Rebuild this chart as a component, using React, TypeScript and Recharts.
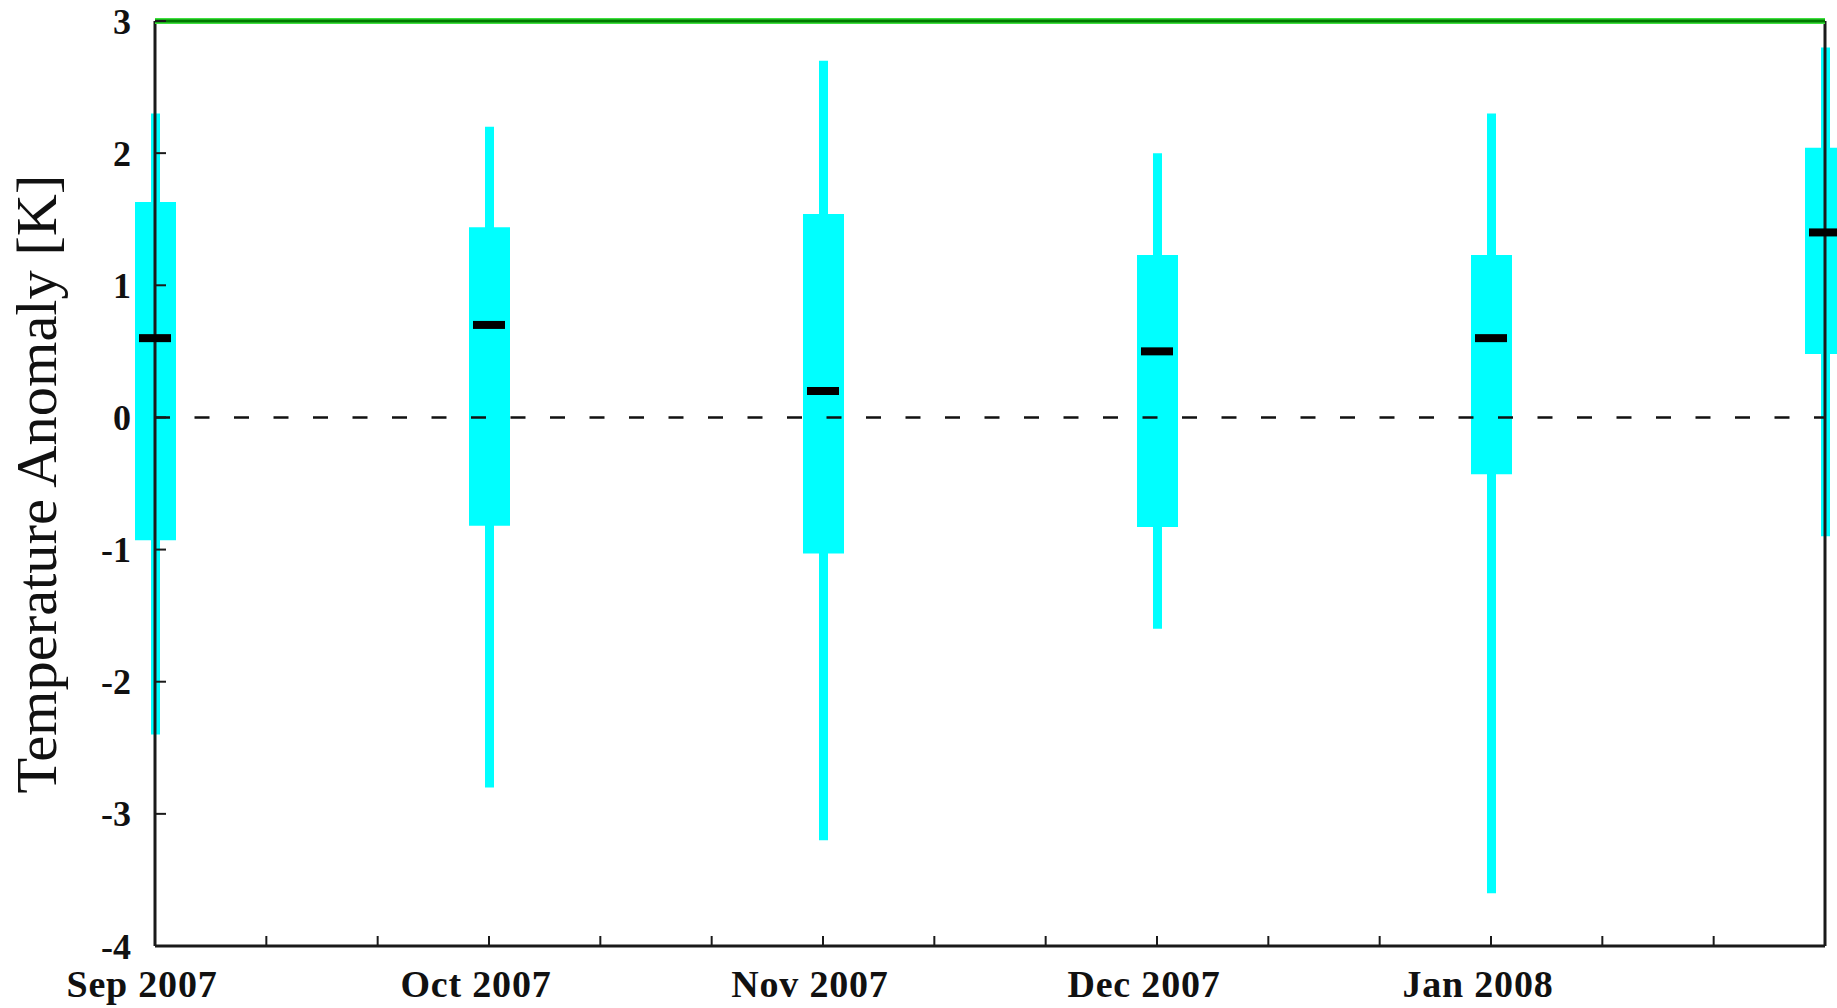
import {
  Bar,
  ComposedChart,
  ReferenceLine,
  Scatter,
  XAxis,
  YAxis,
  Label,
} from "recharts";

const months = ["Sep 2007", "Oct 2007", "Nov 2007", "Dec 2007", "Jan 2008", "Feb 2008"];
const tickLabels = ["Sep 2007", "Oct 2007", "Nov 2007", "Dec 2007", "Jan 2008", ""];
const whiskerHigh = [2.3, 2.2, 2.7, 2.0, 2.3, 2.8];
const boxHigh = [1.63, 1.44, 1.54, 1.23, 1.23, 2.04];
const median = [0.6, 0.7, 0.2, 0.5, 0.6, 1.4];
const boxLow = [-0.93, -0.82, -1.03, -0.83, -0.43, 0.48];
const whiskerLow = [-2.4, -2.8, -3.2, -1.6, -3.6, -0.9];
const yTicks = [-4, -3, -2, -1, 0, 1, 2, 3];

const data = months.map((m, i) => ({
  x: i,
  month: m,
  whisker: [whiskerLow[i], whiskerHigh[i]],
  box: [boxLow[i], boxHigh[i]],
  med: median[i],
}));

// major ticks at each month, minor ticks at thirds
const xTicks = months.flatMap((_, i) => (i < months.length - 1 ? [i, i + 1 / 3, i + 2 / 3] : [i]));

const FONT = '"Liberation Serif", "Times New Roman", serif';
const CYAN = "#00ffff";
const AXIS = "#1a1a1a";

function BottomTick({ x, y, payload }: any) {
  const v = payload.value;
  const isMajor = Math.abs(v - Math.round(v)) < 1e-6;
  return (
    <g>
      <line x1={x} x2={x} y1={y} y2={y - 10} stroke={AXIS} strokeWidth={2} />
      {isMajor && (
        <text
          x={x - 13}
          y={y + 51}
          textAnchor="middle"
          fontFamily={FONT}
          fontWeight="bold"
          fontSize={38}
          letterSpacing={0.8}
          fill="#111"
        >
          {tickLabels[Math.round(v)]}
        </text>
      )}
    </g>
  );
}

function TopTick({ x, y }: any) {
  return <line x1={x} x2={x} y1={y} y2={y + 10} stroke={AXIS} strokeWidth={2} />;
}

function LeftTick({ x, y, payload }: any) {
  return (
    <g>
      <line x1={x} x2={x + 11} y1={y} y2={y} stroke={AXIS} strokeWidth={2} />
      <text
        x={x - 24}
        y={y}
        dy="0.35em"
        textAnchor="end"
        fontFamily={FONT}
        fontWeight="bold"
        fontSize={36}
        fill="#111"
      >
        {payload.value}
      </text>
    </g>
  );
}

function MedianMark({ cx, cy }: any) {
  return <rect x={cx - 16} y={cy - 4} width={32} height={8} fill="#000" />;
}

export default function App() {
  return (
    <div style={{ position: "absolute", left: 0, top: 0, width: 1837, height: 1008, background: "#fff" }}>
      <ComposedChart
        width={1837}
        height={1008}
        data={data}
        margin={{ top: 21, right: 12, bottom: 12, left: 0 }}
      >
        <XAxis
          xAxisId="main"
          dataKey="x"
          type="number"
          domain={[0, 5]}
          ticks={xTicks}
          interval={0}
          axisLine={false}
          tickLine={false}
          tickSize={0}
          tickMargin={0}
          height={50}
          tick={<BottomTick />}
        />
        <XAxis
          xAxisId="top"
          dataKey="x"
          type="number"
          orientation="top"
          domain={[0, 5]}
          ticks={xTicks}
          interval={0}
          axisLine={false}
          tickLine={false}
          tickSize={0}
          tickMargin={0}
          height={0}
          tick={<TopTick />}
        />
        <YAxis
          type="number"
          domain={[-4, 3]}
          ticks={yTicks}
          interval={0}
          width={155}
          axisLine={false}
          tickLine={false}
          tickSize={0}
          tickMargin={0}
          tick={<LeftTick />}
        >
          <Label
            content={() => (
              <text
                x={56}
                y={484}
                transform="rotate(-90 56 484)"
                textAnchor="middle"
                fontFamily={FONT}
                fontSize={57}
                textLength={619}
                lengthAdjust="spacingAndGlyphs"
                fill="#111"
              >
                Temperature Anomaly [K]
              </text>
            )}
          />
        </YAxis>

        <Bar xAxisId="top" dataKey="whisker" barSize={9} fill={CYAN} isAnimationActive={false} />
        <Bar xAxisId="main" dataKey="box" barSize={41} fill={CYAN} isAnimationActive={false} />

        <ReferenceLine xAxisId="main" y={0} stroke="#111" strokeWidth={2.5} strokeDasharray="15 24.5" />
        <ReferenceLine xAxisId="main" x={0} stroke={AXIS} strokeWidth={3} />
        <ReferenceLine xAxisId="main" x={5} stroke={AXIS} strokeWidth={3} />
        <ReferenceLine xAxisId="main" y={-4} stroke={AXIS} strokeWidth={3} />
        <ReferenceLine xAxisId="main" y={3} stroke="#3ee03e" strokeWidth={6} />
        <ReferenceLine xAxisId="main" y={3} stroke="#007a00" strokeWidth={3} />

        <Scatter xAxisId="main" dataKey="med" shape={<MedianMark />} isAnimationActive={false} />
      </ComposedChart>
    </div>
  );
}
